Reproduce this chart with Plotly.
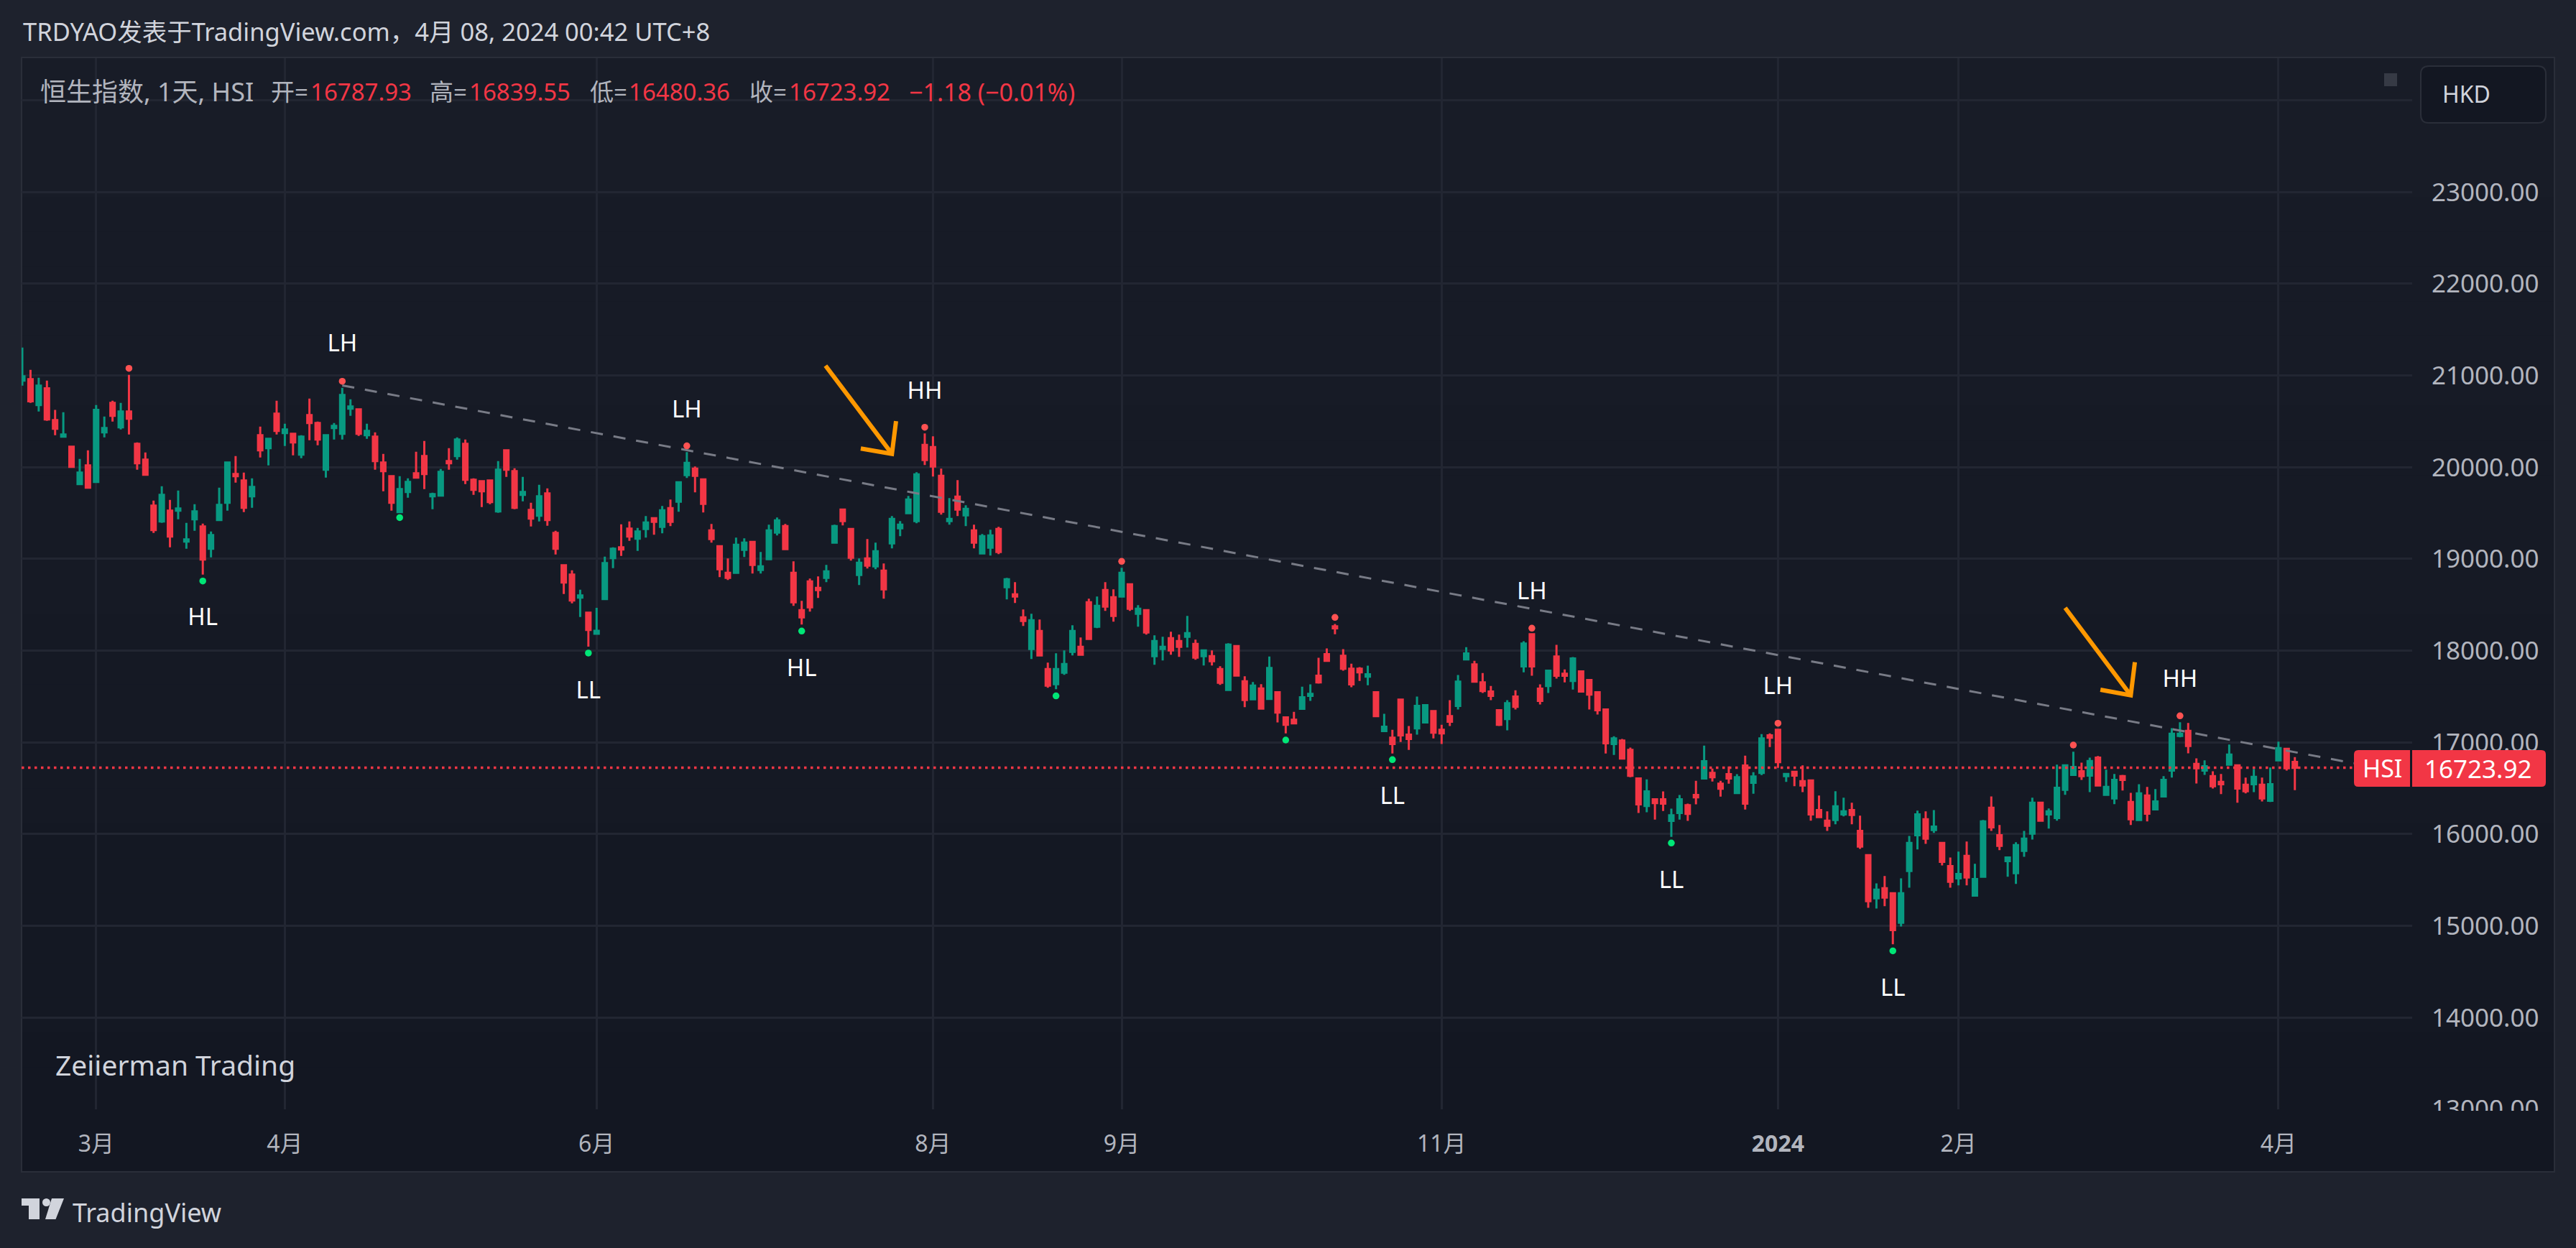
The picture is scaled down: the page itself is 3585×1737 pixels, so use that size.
import plotly.graph_objects as go

W, H = 3585, 1737

# daily bars, one row = 10 bars
opens = [
    20945, 20960, 20678, 20859, 20514, 20334, 20224, 19817, 20020, 19840,
    20381, 20702, 20436, 20608, 20255, 20083, 19582, 19409, 19527, 19527,
    19190, 19433, 19355, 19112, 19425, 19613, 19926, 19856, 19684, 20349,
    20208, 20584, 20373, 20365, 20138, 20569, 20483, 19973, 20428, 20365,
    20639, 20631, 20349, 20334, 20052, 19903, 19511, 19731, 19934, 20122,
    19684, 19691, 20067, 20122, 20255, 19864, 19848, 19856, 19519, 20185,
    19958, 19699, 19535, 19472, 19715, 19284, 18932, 18830, 18579, 18415,
    18185, 18563, 19010, 19127, 19331, 19221, 19327, 19444, 19350, 19554,
    19624, 19914, 19985, 19867, 19311, 19139, 18849, 18849, 19099, 19186,
    18880, 18998, 19287, 19358, 18849, 18441, 18755, 18684, 18794, 19178,
    19538, 19327, 18825, 19005, 18919, 18872, 19170, 19334, 19499, 19413,
    20243, 20220, 19906, 19413, 19679, 19475, 19311, 19060, 19123, 19327,
    18692, 18614, 18363, 18018, 18214, 17799, 17635, 17760, 17987, 18042,
    18528, 18261, 18661, 18582, 18590, 18723, 18402, 18441, 17940, 18018,
    18136, 18105, 18152, 18073, 17940, 17940, 17799, 17572, 18050, 17666,
    17470, 17588, 17475, 17546, 17272, 17248, 17366, 17507, 17726, 17961,
    18266, 17945, 17804, 17804, 17718, 17546, 17123, 17052, 17467, 17084,
    17154, 17217, 17342, 17138, 17287, 17397, 17906, 17851, 17655, 17554,
    17350, 17256, 17499, 17828, 18180, 17585, 17616, 17937, 17749, 17671,
    17773, 17679, 17546, 17358, 16982, 17021, 16919, 16606, 16308, 16379,
    16379, 16144, 16230, 16316, 16426, 16606, 16668, 16551, 16653, 16449,
    16747, 16559, 16668, 17076, 17138, 16632, 16679, 16577, 16585, 16263,
    16146, 16154, 16216, 16263, 16036, 15770, 15300, 15410, 15355, 15034,
    15598, 15989, 16162, 16044, 15903, 15652, 15519, 15762, 15331, 15535,
    16287, 15989, 15707, 15574, 15817, 16005, 16342, 16216, 16177, 16483,
    16647, 16686, 16639, 16835, 16428, 16389, 16632, 16350, 16154, 16420,
    16271, 16412, 16694, 17070, 17125, 16765, 16694, 16632, 16569, 16757,
    16749, 16538, 16545, 16538, 16365, 16804, 16929, 16787.93,
]
highs = [
    21305, 21062, 20976, 20945, 20624, 20600, 20232, 20091, 20185, 20678,
    20553, 20725, 20702, 21007, 20271, 20161, 19637, 19793, 19644, 19746,
    19394, 19597, 19386, 19300, 19778, 20052, 20122, 19942, 19879, 20443,
    20318, 20725, 20475, 20365, 20349, 20749, 20498, 20349, 20483, 20866,
    20741, 20631, 20475, 20381, 20146, 19911, 19903, 19879, 20169, 20287,
    19723, 19981, 20208, 20326, 20302, 19879, 19856, 19856, 20067, 20185,
    19989, 19895, 19613, 19809, 19770, 19308, 18932, 18877, 18665, 18415,
    18467, 19026, 19127, 19378, 19409, 19339, 19468, 19444, 19577, 19648,
    19836, 20165, 20008, 19867, 19381, 19146, 19005, 19233, 19225, 19186,
    19076, 19374, 19452, 19381, 18974, 18543, 18786, 18810, 18935, 19374,
    19538, 19327, 19005, 19217, 19178, 18951, 19468, 19413, 19687, 19945,
    20368, 20337, 19985, 19663, 19859, 19585, 19374, 19272, 19319, 19350,
    18794, 18747, 18449, 18402, 18340, 17870, 17971, 18003, 18277, 18144,
    18567, 18590, 18747, 18669, 18904, 18731, 18496, 18441, 18167, 18152,
    18206, 18175, 18379, 18120, 18011, 18003, 17830, 18081, 18050, 17721,
    17658, 17635, 17937, 17546, 17272, 17334, 17608, 17632, 17922, 18024,
    18290, 18016, 17859, 17820, 17836, 17546, 17311, 17138, 17467, 17178,
    17499, 17405, 17342, 17193, 17460, 17734, 18039, 17890, 17757, 17616,
    17350, 17460, 17569, 18102, 18180, 17632, 17789, 18063, 17796, 17930,
    17773, 17679, 17546, 17358, 17068, 17037, 16943, 16606, 16598, 16379,
    16465, 16277, 16426, 16332, 16582, 16966, 16715, 16582, 16739, 16653,
    16856, 16676, 17091, 17099, 17138, 16663, 16679, 16749, 16592, 16420,
    16248, 16467, 16397, 16342, 16201, 15770, 15464, 15543, 15363, 15519,
    15981, 16256, 16248, 16263, 15903, 15746, 15809, 15919, 15676, 16154,
    16412, 16099, 15754, 15911, 16036, 16397, 16342, 16279, 16757, 16749,
    16898, 16780, 16835, 16851, 16702, 16655, 16647, 16451, 16545, 16514,
    16491, 16632, 17156, 17219, 17211, 16827, 16804, 16686, 16655, 16976,
    16749, 16616, 16710, 16616, 16726, 17008, 16929, 16839.55,
]
lows = [
    20890, 20702, 20608, 20506, 20349, 20326, 20005, 19809, 19778, 19840,
    20326, 20498, 20412, 20357, 19973, 19911, 19284, 19394, 19127, 19433,
    19112, 19308, 18830, 19018, 19425, 19527, 19832, 19511, 19558, 20107,
    20020, 20357, 20232, 20130, 20099, 20295, 20240, 19887, 20302, 20302,
    20561, 20342, 20310, 19973, 19738, 19527, 19511, 19668, 19879, 19762,
    19543, 19691, 19973, 20083, 19817, 19699, 19566, 19597, 19503, 19895,
    19543, 19629, 19355, 19409, 19362, 19049, 18618, 18516, 18368, 18044,
    18185, 18556, 18900, 19033, 19198, 19088, 19233, 19264, 19280, 19358,
    19515, 19883, 19726, 19507, 19178, 18802, 18770, 18849, 19021, 18841,
    18841, 18998, 19256, 19099, 18488, 18285, 18426, 18575, 18747, 19170,
    19366, 18982, 18716, 18896, 18888, 18567, 19115, 19248, 19491, 19389,
    20024, 19898, 19483, 19374, 19468, 19358, 19115, 19060, 19037, 19052,
    18559, 18520, 18269, 17909, 17940, 17595, 17580, 17736, 17948, 17956,
    18120, 18246, 18434, 18316, 18582, 18434, 18261, 18175, 17846, 17893,
    17956, 17932, 18034, 17901, 17838, 17838, 17627, 17572, 17729, 17384,
    17470, 17361, 17475, 17217, 17099, 17201, 17366, 17452, 17640, 17890,
    18180, 17781, 17601, 17671, 17624, 17287, 17123, 16880, 17005, 16919,
    17084, 17217, 17044, 16982, 17178, 17358, 17898, 17663, 17538, 17460,
    17178, 17131, 17358, 17765, 17726, 17413, 17538, 17695, 17655, 17577,
    17546, 17358, 17303, 16880, 16864, 16825, 16621, 16230, 16238, 16159,
    16253, 15971, 16159, 16144, 16324, 16606, 16574, 16410, 16551, 16449,
    16269, 16441, 16645, 16950, 16723, 16569, 16522, 16459, 16146, 16185,
    16036, 16107, 16193, 16107, 15840, 15198, 15190, 15214, 14799, 14994,
    15417, 15833, 15895, 16013, 15660, 15417, 15441, 15441, 15331, 15535,
    16036, 15825, 15535, 15457, 15754, 15942, 16138, 16060, 16146, 16428,
    16647, 16592, 16459, 16522, 16428, 16326, 16475, 16099, 16146, 16138,
    16271, 16412, 16616, 17055, 16882, 16553, 16647, 16498, 16436, 16757,
    16342, 16444, 16459, 16357, 16350, 16804, 16694, 16480.36,
]
closes = [
    20992, 20718, 20890, 20522, 20420, 20357, 20005, 19942, 19778, 20624,
    20428, 20561, 20608, 20530, 20044, 19919, 19315, 19699, 19245, 19550,
    19214, 19519, 18994, 19261, 19590, 20052, 19903, 19558, 19785, 20185,
    20310, 20396, 20412, 20271, 20334, 20483, 20302, 20349, 20451, 20788,
    20663, 20365, 20396, 20067, 19958, 19613, 19762, 19840, 19887, 19926,
    19707, 19950, 20044, 20302, 19864, 19754, 19738, 19621, 19973, 19973,
    19558, 19731, 19441, 19684, 19425, 19112, 18744, 18548, 18603, 18227,
    18216, 18955, 19112, 19104, 19245, 19300, 19397, 19405, 19530, 19405,
    19836, 20047, 19906, 19601, 19217, 18888, 18794, 19154, 19178, 18935,
    18919, 19311, 19421, 19107, 18528, 18363, 18473, 18661, 18864, 19358,
    19413, 19013, 18958, 18927, 19084, 18669, 19436, 19374, 19648, 19922,
    20079, 20008, 19515, 19436, 19538, 19546, 19178, 19248, 19256, 19076,
    18778, 18590, 18324, 18332, 17948, 17619, 17799, 17854, 18214, 17956,
    18128, 18488, 18481, 18379, 18849, 18457, 18457, 18199, 18105, 18042,
    18003, 18042, 18191, 17924, 18003, 17885, 17650, 18065, 17729, 17462,
    17619, 17368, 17812, 17326, 17193, 17209, 17491, 17530, 17655, 17890,
    18243, 17804, 17632, 17765, 17742, 17287, 17170, 16982, 17076, 17037,
    17397, 17405, 17107, 17099, 17225, 17663, 17969, 17663, 17561, 17507,
    17193, 17428, 17389, 18078, 17828, 17452, 17781, 17726, 17726, 17914,
    17554, 17522, 17350, 16990, 17044, 16825, 16637, 16324, 16465, 16339,
    16332, 16206, 16379, 16222, 16402, 16794, 16621, 16496, 16606, 16621,
    16332, 16629, 17044, 17052, 16786, 16655, 16639, 16530, 16216, 16185,
    16091, 16303, 16248, 16209, 15864, 15269, 15394, 15308, 14955, 15355,
    15903, 16216, 15950, 16083, 15699, 15480, 15566, 15527, 15511, 16138,
    16075, 15872, 15746, 15880, 15950, 16342, 16146, 16248, 16506, 16749,
    16733, 16632, 16796, 16530, 16514, 16592, 16592, 16162, 16444, 16224,
    16357, 16592, 17094, 17094, 16961, 16718, 16741, 16522, 16545, 16867,
    16498, 16467, 16624, 16389, 16545, 16937, 16718, 16723.92,
]
bars = list(range(1, len(opens) + 1))

month_bars = [10, 33, 71, 112, 135, 174, 215, 237, 276]
month_labels = ['3月', '4月', '6月', '8月', '9月', '11月', '<b>2024</b>', '2月', '4月']
price_ticks = [13000, 14000, 15000, 16000, 17000, 18000, 19000, 20000, 21000, 22000, 23000, 24000]
price_labels = ['13000.00', '14000.00', '15000.00', '16000.00', '17000.00', '18000.00',
                '19000.00', '20000.00', '21000.00', '22000.00', '23000.00', '']

# pivot dots
high_bars = [14, 40, 82, 111, 135, 161, 185, 215, 251, 264]
high_dots = [21078, 20937, 20233, 20436, 18974, 18363, 18245, 17209, 16971, 17290]
low_bars = [23, 47, 70, 96, 127, 155, 168, 202, 229]
low_dots = [18759, 19451, 17974, 18214, 17507, 17026, 16812, 15903, 14728]

# swing labels
label_bars = [40, 23, 82, 111, 96, 70, 185, 168, 215, 202, 229, 264]
label_prices = [21327, 18343, 20605, 20814, 17785, 17544, 18625, 16393, 17594, 15479, 14301, 17667]
label_texts = ['LH', 'HL', 'LH', 'HH', 'HL', 'LL', 'LH', 'LL', 'LH', 'LL', 'LL', 'HH']

# hand drawings on the chart
trend_bars = [40, 285.2]
trend_prices = [20892, 16773]
arrow1_bars = [98.9, 107.0, None, 107.5, 107.0, 103.2]
arrow1_prices = [21107, 20146, None, 20502, 20146, 20204]
arrow2_bars = [250.0, 258.0, None, 258.5, 258.0, 254.3]
arrow2_prices = [18467, 17514, None, 17874, 17514, 17574]

last_close = closes[-1]

UP = '#089981'
DOWN = '#F23645'
FRAME = '#2a2e39'
TEXT = '#d1d4dc'
MUTED = '#b2b5be'
FONT = 'Noto Sans, Noto Sans CJK SC'


def px(x):
    return x / W


def py(y):
    return 1 - y / H


def rounded(x0, y0, x1, y1, r_left, r_right):
    # path for a box with round corners, in page pixels
    return (
        f'M {px(x0 + r_left)} {py(y0)} L {px(x1 - r_right)} {py(y0)} '
        f'Q {px(x1)} {py(y0)} {px(x1)} {py(y0 + r_right)} L {px(x1)} {py(y1 - r_right)} '
        f'Q {px(x1)} {py(y1)} {px(x1 - r_right)} {py(y1)} L {px(x0 + r_left)} {py(y1)} '
        f'Q {px(x0)} {py(y1)} {px(x0)} {py(y1 - r_left)} L {px(x0)} {py(y0 + r_left)} '
        f'Q {px(x0)} {py(y0)} {px(x0 + r_left)} {py(y0)} Z'
    )


def paper_poly(points):
    return 'M ' + ' L '.join(f'{px(a)} {py(b)}' for a, b in points) + ' Z'


fig = go.Figure()

fig.add_trace(go.Candlestick(
    x=bars, open=opens, high=highs, low=lows, close=closes,
    increasing=dict(line=dict(color=UP, width=3), fillcolor=UP),
    decreasing=dict(line=dict(color=DOWN, width=3), fillcolor=DOWN),
    whiskerwidth=0, hoverinfo='skip', showlegend=False,
))
fig.add_trace(go.Scatter(
    x=trend_bars, y=trend_prices, mode='lines', hoverinfo='skip', showlegend=False,
    line=dict(color='#787b86', width=3, dash='17px,15px'),
))
fig.add_trace(go.Scatter(
    x=high_bars, y=high_dots, mode='markers', hoverinfo='skip', showlegend=False,
    marker=dict(color='#ff5252', size=9.5),
))
fig.add_trace(go.Scatter(
    x=low_bars, y=low_dots, mode='markers', hoverinfo='skip', showlegend=False,
    marker=dict(color='#00e676', size=9.5),
))
fig.add_trace(go.Scatter(
    x=label_bars, y=label_prices, text=label_texts, mode='text', hoverinfo='skip', showlegend=False,
    textfont=dict(color='white', size=33, family=FONT),
))
for ax, ay in [(arrow1_bars, arrow1_prices), (arrow2_bars, arrow2_prices)]:
    fig.add_trace(go.Scatter(
        x=ax, y=ay, mode='lines', hoverinfo='skip', showlegend=False,
        line=dict(color='#ff9800', width=6),
    ))

shapes = []
# background fades a little from top to bottom
steps = 32
for i in range(steps):
    t = i / (steps - 1)
    col = f'rgb({round(24 - 5 * t)},{round(28 - 5 * t)},{round(39 - 5 * t)})'
    y0 = 80 + (1631 - 80) * i / steps
    y1 = 80 + (1631 - 80) * (i + 1) / steps + 1
    shapes.append(dict(type='rect', xref='paper', yref='paper', layer='below',
                       x0=px(30), x1=px(3555), y0=py(y0), y1=py(min(y1, 1631)),
                       fillcolor=col, line=dict(width=0)))
shapes.append(dict(type='rect', xref='paper', yref='paper', layer='below',
                   x0=px(30), x1=px(3555), y0=py(80), y1=py(1631),
                   line=dict(color=FRAME, width=2)))
# last price line
shapes.append(dict(type='line', xref='paper', yref='y', layer='above',
                   x0=px(30), x1=px(3276), y0=last_close, y1=last_close,
                   line=dict(color=DOWN, width=3.5, dash='3.5px,5.5px')))
# hides the lower half of the 13000 label
shapes.append(dict(type='rect', xref='paper', yref='paper', layer='above',
                   x0=px(3360), x1=px(3553), y0=py(1546), y1=py(1629),
                   fillcolor='#131722', line=dict(width=0)))
# price tags
shapes.append(dict(type='path', xref='paper', yref='paper', layer='above',
                   path=rounded(3276, 1044, 3354, 1095, 6, 0), fillcolor=DOWN, line=dict(width=0)))
shapes.append(dict(type='path', xref='paper', yref='paper', layer='above',
                   path=rounded(3357, 1044, 3543, 1095, 0, 6), fillcolor=DOWN, line=dict(width=0)))
# currency box and square
shapes.append(dict(type='path', xref='paper', yref='paper', layer='above',
                   path=rounded(3369, 92, 3543, 171, 11, 11), fillcolor='#131722',
                   line=dict(color=FRAME, width=2)))
shapes.append(dict(type='rect', xref='paper', yref='paper', layer='above',
                   x0=px(3318), x1=px(3336), y0=py(102), y1=py(120),
                   fillcolor='#363a45', line=dict(width=0)))
# TradingView logo
shapes.append(dict(type='path', xref='paper', yref='paper', layer='above', fillcolor=TEXT, line=dict(width=0),
                   path=paper_poly([(30, 1668), (55, 1668), (55, 1697), (40, 1697), (40, 1678), (30, 1678)])))
shapes.append(dict(type='path', xref='paper', yref='paper', layer='above', fillcolor=TEXT, line=dict(width=0),
                   path=paper_poly([(72, 1668), (89, 1668), (77.5, 1697), (63, 1697)])))
shapes.append(dict(type='circle', xref='paper', yref='paper', layer='above', fillcolor=TEXT, line=dict(width=0),
                   x0=px(59), x1=px(70), y0=py(1668), y1=py(1679)))


def note(x, y, text, color=TEXT, size=32, anchor='left'):
    return dict(xref='paper', yref='paper', x=px(x), y=py(y), text=text, showarrow=False,
                xanchor=anchor, yanchor='middle', font=dict(color=color, size=size, family=FONT))


annotations = [
    note(30, 43, 'TRDYAO发表于TradingView.com，4月 08, 2024 00:42 UTC+8', TEXT, 34.5),
    note(54, 128, '恒生指数, 1天, HSI', MUTED, 36),
    note(375, 128, '开=', MUTED, 33),
    note(596, 128, '高=', MUTED, 33),
    note(819, 128, '低=', MUTED, 33),
    note(1041, 128, '收=', MUTED, 33),
    note(430, 128, '16787.93', DOWN, 33),
    note(651, 128, '16839.55', DOWN, 33),
    note(873, 128, '16480.36', DOWN, 33),
    note(1096, 128, '16723.92', DOWN, 33),
    note(1263, 128, '−1.18 (−0.01%)', DOWN, 34),
    note(75, 1481, 'Zeiierman Trading', TEXT, 39),
    note(99, 1687, 'TradingView', TEXT, 36),
    note(3397, 131, 'HKD', TEXT, 32),
    note(3315, 1069, 'HSI', 'white', 34, 'center'),
    note(3526, 1069, '16723.92', 'white', 35, 'right'),
]

fig.update_layout(
    width=W, height=H, margin=dict(l=0, r=0, t=0, b=0),
    paper_bgcolor='#1e222d', plot_bgcolor='rgba(0,0,0,0)',
    font=dict(family=FONT), boxgap=0.47, boxgroupgap=0, showlegend=False,
    shapes=shapes, annotations=annotations,
    xaxis=dict(
        domain=[px(30), px(3357)], range=[0.91, 292.3], rangeslider=dict(visible=False),
        automargin=False,
        tickmode='array', tickvals=month_bars, ticktext=month_labels,
        showgrid=True, gridcolor='#222632', gridwidth=3, zeroline=False, showline=False,
        ticks='outside', ticklen=20, tickcolor='rgba(0,0,0,0)',
        tickfont=dict(color=MUTED, size=32, family=FONT),
    ),
    yaxis=dict(
        domain=[py(1544), py(81)], range=[13000, 24459], side='right',
        automargin=False,
        tickmode='array', tickvals=price_ticks, ticktext=price_labels,
        showgrid=True, gridcolor='#222632', gridwidth=3, zeroline=False, showline=False,
        ticks='outside', ticklen=19, tickcolor='rgba(0,0,0,0)',
        tickfont=dict(color=MUTED, size=35, family=FONT),
    ),
)

fig.write_html('out.html', config=dict(displayModeBar=False),
               post_script="document.body.style.margin='0';document.body.style.overflow='hidden';")
